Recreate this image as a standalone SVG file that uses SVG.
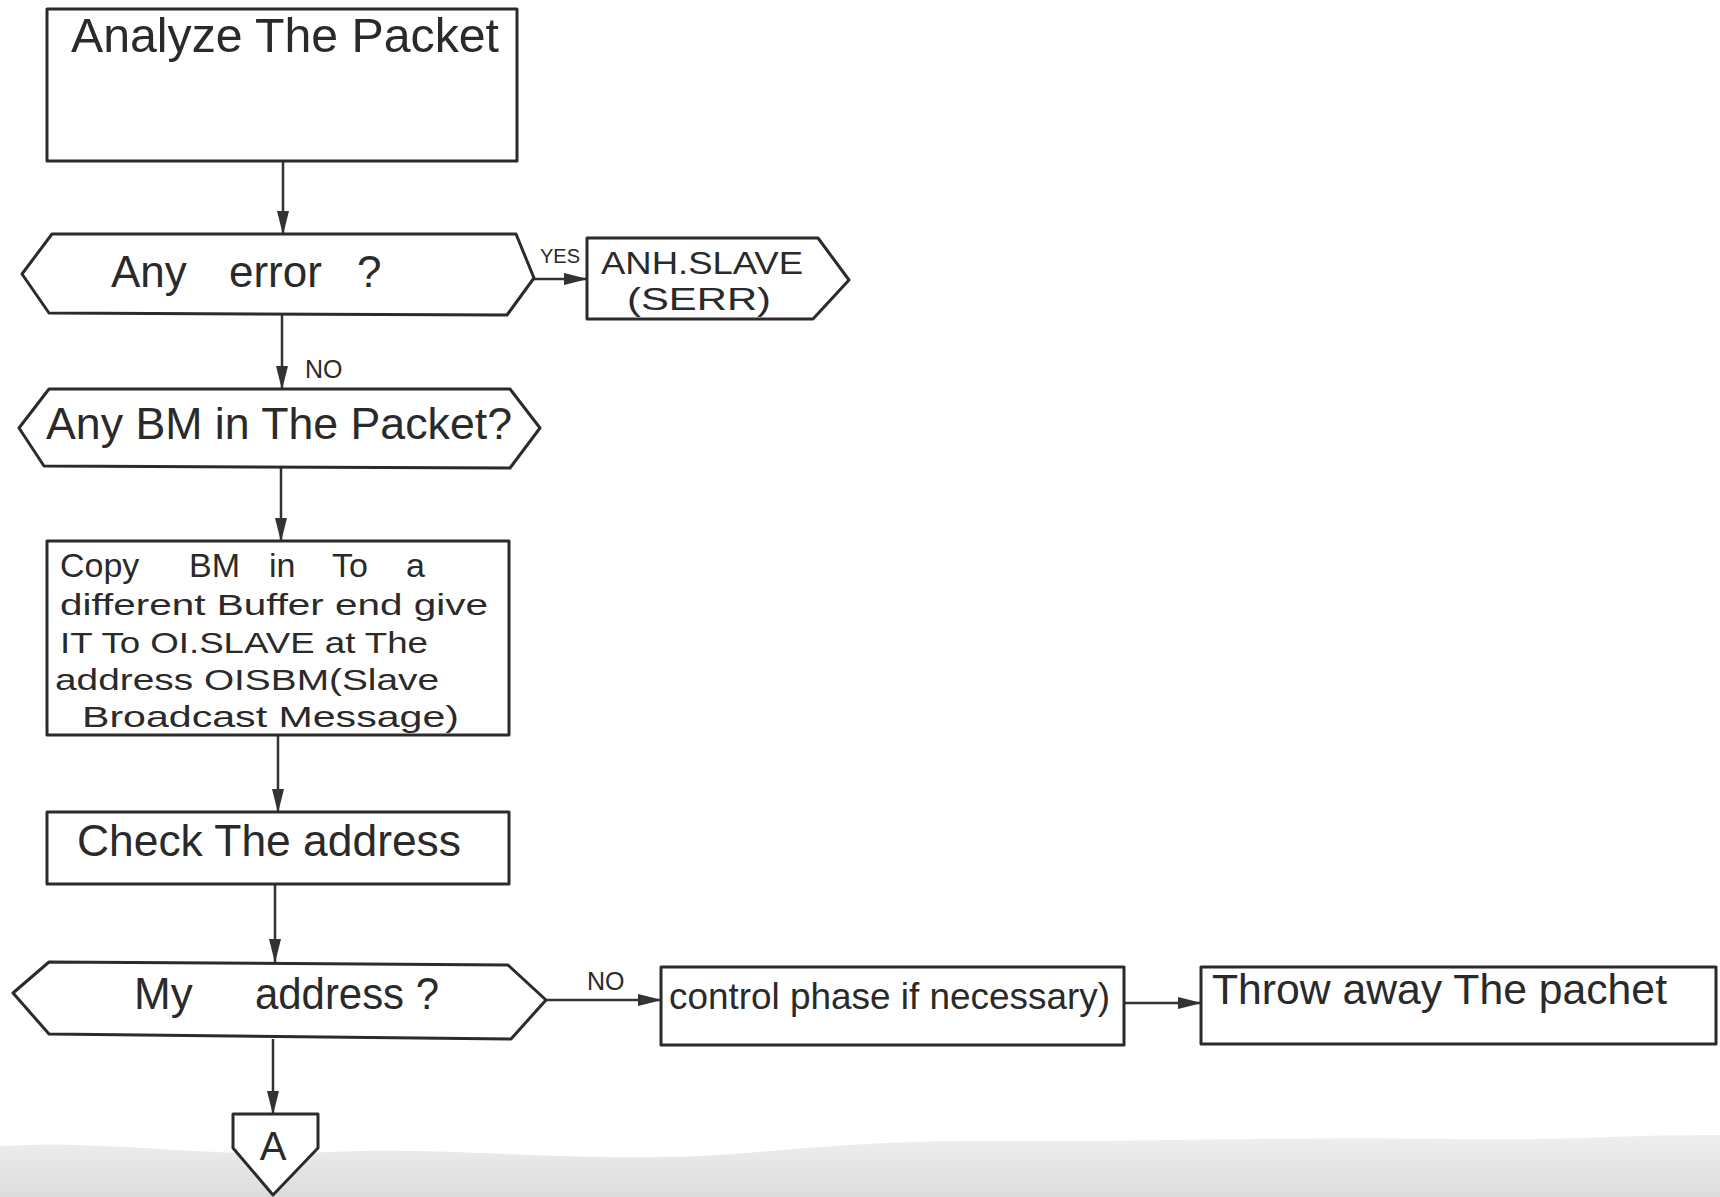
<svg xmlns="http://www.w3.org/2000/svg" width="1720" height="1197" viewBox="0 0 1720 1197">
  <defs>
    <marker id="arrow" viewBox="0 0 24 12" refX="23" refY="6" markerWidth="24" markerHeight="12" markerUnits="userSpaceOnUse" orient="auto">
      <path d="M0,0 L24,6 L0,12 Z" fill="#333"/>
    </marker>
    <linearGradient id="paperShade" x1="0" y1="0" x2="0" y2="1">
      <stop offset="0" stop-color="#efefef"/>
      <stop offset="1" stop-color="#dcdcdc"/>
    </linearGradient>
    <style>
      .shape { fill: #fff; stroke: #2b2b2b; stroke-width: 3; stroke-linejoin: round; }
      .link { fill: none; stroke: #333; stroke-width: 2.5; marker-end: url(#arrow); }
      .lbl { font-family: "Liberation Sans", "DejaVu Sans", sans-serif; fill: #2a2a2a; }
      .big { font-size: 44px; }
      .mid { font-size: 30px; }
      .small { font-size: 25px; }
    </style>
  </defs>

  <rect width="1720" height="1197" fill="#fff"/>

  <!-- shaded strip along the lower edge of the sheet -->
  <path d="M0,1146 C120,1140 200,1158 330,1152 C450,1146 560,1162 700,1156 C800,1150 860,1140 1000,1141 C1150,1142 1300,1136 1450,1139 C1560,1141 1640,1134 1720,1135 L1720,1197 L0,1197 Z" fill="url(#paperShade)"/>

  <g id="connectors">
    <line class="link" x1="283" y1="161" x2="283" y2="234"/>
    <line class="link" x1="534" y1="279" x2="587" y2="279"/>
    <text class="lbl" x="540" y="263" font-size="20">YES</text>
    <line class="link" x1="282" y1="315" x2="282" y2="389"/>
    <text class="lbl small" x="305" y="378">NO</text>
    <line class="link" x1="281" y1="468" x2="281" y2="541"/>
    <line class="link" x1="278" y1="735" x2="278" y2="812"/>
    <line class="link" x1="275" y1="884" x2="275" y2="962"/>
    <line class="link" x1="546" y1="1000" x2="661" y2="1000"/>
    <text class="lbl small" x="587" y="990">NO</text>
    <line class="link" x1="1124" y1="1003" x2="1201" y2="1003"/>
    <line class="link" x1="273" y1="1039" x2="273" y2="1114"/>
  </g>

  <g id="analyze">
    <rect class="shape" x="47" y="9" width="470" height="152"/>
    <text class="lbl" font-size="48" x="71" y="52" textLength="428" lengthAdjust="spacingAndGlyphs">Analyze The Packet</text>
  </g>

  <g id="any-error">
    <polygon class="shape" points="22,274 52,234 516,234 534,278 507,315 49,313"/>
    <text class="lbl big" x="111" y="287">Any</text>
    <text class="lbl big" x="229" y="287">error</text>
    <text class="lbl big" x="357" y="287">?</text>
  </g>

  <g id="anh-slave">
    <path class="shape" d="M587,238 L818,238 L849,280 L813,319 L587,319 Z"/>
    <text class="lbl" font-size="32" x="601" y="274" textLength="202" lengthAdjust="spacingAndGlyphs">ANH.SLAVE</text>
    <text class="lbl" font-size="32" x="627" y="310" textLength="144" lengthAdjust="spacingAndGlyphs">(SERR)</text>
  </g>

  <g id="any-bm">
    <polygon class="shape" points="19,428 49,389 510,389 540,428 510,468 44,466"/>
    <text class="lbl big" x="46" y="439" textLength="466" lengthAdjust="spacingAndGlyphs">Any BM in The Packet?</text>
  </g>

  <g id="copy-bm">
    <rect class="shape" x="47" y="541" width="462" height="194"/>
    <text class="lbl" font-size="34" y="577"><tspan x="60">Copy</tspan> <tspan x="189">BM</tspan> <tspan x="269">in</tspan> <tspan x="332">To</tspan> <tspan x="406">a</tspan></text>
    <text class="lbl mid" x="60" y="615" textLength="428" lengthAdjust="spacingAndGlyphs">different Buffer end give</text>
    <text class="lbl mid" x="60" y="653" textLength="368" lengthAdjust="spacingAndGlyphs">IT To OI.SLAVE at The</text>
    <text class="lbl mid" x="55" y="690" textLength="384" lengthAdjust="spacingAndGlyphs">address OISBM(Slave</text>
    <text class="lbl mid" x="82" y="727" textLength="377" lengthAdjust="spacingAndGlyphs">Broadcast Message)</text>
  </g>

  <g id="check-address">
    <rect class="shape" x="47" y="812" width="462" height="72"/>
    <text class="lbl big" x="77" y="856" textLength="384" lengthAdjust="spacingAndGlyphs">Check The address</text>
  </g>

  <g id="my-address">
    <polygon class="shape" points="13,993 49,962 508,965 546,1000 511,1039 49,1034"/>
    <text class="lbl big" x="134" y="1009">My</text>
    <text class="lbl big" x="255" y="1009" textLength="184" lengthAdjust="spacingAndGlyphs">address ?</text>
  </g>

  <g id="control-phase">
    <rect class="shape" x="661" y="967" width="463" height="78"/>
    <text class="lbl" font-size="36" x="669" y="1009" textLength="441" lengthAdjust="spacingAndGlyphs">control phase if necessary)</text>
  </g>

  <g id="throw-away">
    <rect class="shape" x="1201" y="967" width="515" height="77"/>
    <text class="lbl" font-size="42" x="1212" y="1004" textLength="455" lengthAdjust="spacingAndGlyphs">Throw away The pachet</text>
  </g>

  <g id="connector-a">
    <path class="shape" d="M233,1114 L318,1114 L318,1148 L273,1195 L233,1148 Z"/>
    <text class="lbl" font-size="40" x="273" y="1160" text-anchor="middle">A</text>
  </g>
</svg>
